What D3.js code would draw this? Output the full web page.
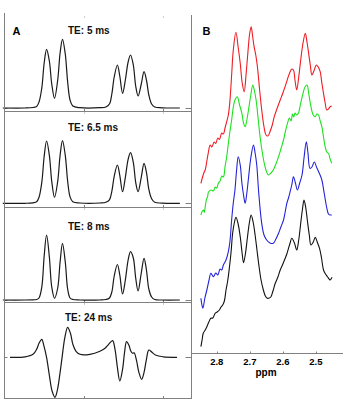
<!DOCTYPE html>
<html>
<head>
<meta charset="utf-8">
<script src="https://cdn.jsdelivr.net/npm/d3@7"></script>
<style>
body { margin: 0; background: #fff; }
svg { display: block; font-family: Arial, "Liberation Sans", sans-serif; }
</style>
</head>
<body>
<div class="chart"></div>
<script>
// ---- panel A: simulated spectra (ppm grid shared by the first three echo times)
const aPpm = [2.853, 2.797, 2.777, 2.768, 2.762, 2.755, 2.749, 2.743, 2.736, 2.730, 2.723, 2.715, 2.709, 2.703, 2.696, 2.690, 2.684, 2.677, 2.659, 2.609, 2.594, 2.585, 2.579, 2.573, 2.565, 2.559, 2.552, 2.545, 2.538, 2.532, 2.525, 2.519, 2.513, 2.505, 2.498, 2.492, 2.486, 2.479, 2.471, 2.453, 2.408];
const te5  = [0, 0, 0.5, 1.5, 6, 20, 45, 58.7, 47, 24, 9.7, 28, 55, 68.7, 54, 26, 8, 2, 0.3, 0.3, 1, 4, 14, 31, 43, 32, 14.7, 28, 46, 53, 43, 22, 12, 24, 36.3, 28, 13, 4, 1, 0.2, 0];
const te65 = [0, 0, 0.5, 1.5, 6, 21, 47, 62.3, 48, 22, 6, 22, 48, 62.6, 48, 22, 6.5, 1.5, 0.3, 0.3, 1, 3.5, 12, 27, 38.3, 28, 11.6, 26, 44, 50.6, 41, 21, 11.6, 26, 40, 31, 14, 4.5, 1, 0.2, 0];
const te8  = [0, 0, 0.2, 0.5, 2, 13, 44, 65, 43, 13, 1.7, 12, 38, 56.7, 38, 11, 2, 0.5, 0, 0, 0.5, 2, 8, 24, 35.5, 25, 6, 20, 40, 48.3, 42, 22, 9, 27, 41.7, 30, 11, 3, 0.5, 0, 0];

const te24Ppm = [2.835, 2.797, 2.777, 2.768, 2.762, 2.755, 2.750, 2.743, 2.736, 2.729, 2.722, 2.716, 2.709, 2.704, 2.697, 2.690, 2.683, 2.677, 2.669, 2.659, 2.634, 2.609, 2.596, 2.587, 2.577, 2.571, 2.565, 2.559, 2.552, 2.547, 2.542, 2.536, 2.531, 2.527, 2.523, 2.517, 2.511, 2.504, 2.498, 2.492, 2.486, 2.478, 2.468, 2.450, 2.415];
const te24    = [0, 0.5, 3, 8, 14, 18, 12, 0, -18, -34, -40, -33, -15, 0, 20, 30, 24, 13, 6, 3, 3, 6, 9, 13, 16.7, 8, -10, -23.7, -12, 5, 15.7, 12, 6, 4, 4.5, -3, -15, -22, -15, -2, 7.3, 5, 2, 0.5, 0];

const teLabels = ['TE: 5 ms', 'TE: 6.5 ms', 'TE: 8 ms', 'TE: 24 ms'];
const aYLimits = [[-3, 93], [-3.7, 92.3], [-2, 93], [-40.7, 55.3]];
const aTicks = [2.65, 2.45];

// ---- panel B: measured spectra
const redPpm = [2.848, 2.843, 2.838, 2.835, 2.831, 2.826, 2.820, 2.815, 2.808, 2.803, 2.797, 2.792, 2.785, 2.780, 2.775, 2.770, 2.765, 2.760, 2.755, 2.750, 2.742, 2.735, 2.729, 2.723, 2.717, 2.711, 2.706, 2.701, 2.696, 2.692, 2.687, 2.682, 2.677, 2.670, 2.664, 2.657, 2.651, 2.645, 2.639, 2.632, 2.626, 2.617, 2.608, 2.600, 2.590, 2.584, 2.578, 2.573, 2.568, 2.563, 2.558, 2.552, 2.546, 2.539, 2.532, 2.527, 2.522, 2.517, 2.512, 2.505, 2.499, 2.493, 2.487, 2.482, 2.477, 2.472, 2.467, 2.462, 2.457, 2.452];
const red    = [169.7, 176, 181, 183, 190, 199.7, 208, 206, 211, 209.5, 215, 213.5, 220, 219, 225, 231.3, 238, 253, 278, 303, 320.7, 305, 289.7, 270, 261.3, 280, 299.7, 318, 326.3, 318, 306.3, 298, 286.3, 262, 243, 226, 218, 217, 221.3, 228, 236.3, 245, 253, 260, 269.7, 276, 281.3, 284, 283, 272, 263, 276, 293, 310, 319.7, 311, 299.7, 288, 278, 283, 288, 286, 281.3, 270, 259.7, 250, 243, 244, 246.3, 247];

const greenPpm = [2.848, 2.845, 2.840, 2.838, 2.835, 2.831, 2.828, 2.825, 2.817, 2.810, 2.805, 2.800, 2.795, 2.790, 2.785, 2.780, 2.775, 2.770, 2.765, 2.760, 2.755, 2.750, 2.745, 2.738, 2.731, 2.724, 2.719, 2.714, 2.709, 2.704, 2.697, 2.691, 2.686, 2.681, 2.675, 2.669, 2.661, 2.654, 2.649, 2.644, 2.636, 2.629, 2.621, 2.613, 2.606, 2.598, 2.592, 2.586, 2.580, 2.575, 2.571, 2.567, 2.563, 2.558, 2.553, 2.546, 2.539, 2.533, 2.527, 2.521, 2.515, 2.508, 2.502, 2.497, 2.492, 2.487, 2.482, 2.477, 2.472, 2.467, 2.462, 2.457, 2.452];
const green    = [138, 141, 143, 140.5, 146, 154, 156, 161, 163, 162, 166, 165, 170, 172, 177, 176, 186.3, 196, 209.7, 222, 233, 246, 253, 256.3, 248, 239.7, 230, 226.3, 233, 243, 258, 268, 262, 253, 235, 216.3, 198, 186.3, 181, 178, 180, 183, 189, 196.3, 204, 213, 222, 229.7, 235, 232, 239, 236, 240, 238, 239.7, 250, 259.7, 266, 268, 258, 246.3, 238, 236.3, 239, 238, 232, 226.3, 216, 206.3, 201, 199.7, 194, 189.7];

const bluePpm = [2.848, 2.845, 2.842, 2.836, 2.830, 2.824, 2.818, 2.814, 2.810, 2.803, 2.797, 2.790, 2.785, 2.780, 2.772, 2.765, 2.760, 2.755, 2.750, 2.745, 2.740, 2.735, 2.729, 2.724, 2.719, 2.714, 2.709, 2.704, 2.697, 2.689, 2.684, 2.679, 2.673, 2.664, 2.657, 2.649, 2.639, 2.629, 2.621, 2.613, 2.606, 2.598, 2.593, 2.588, 2.583, 2.578, 2.573, 2.568, 2.562, 2.556, 2.549, 2.542, 2.536, 2.529, 2.524, 2.518, 2.512, 2.505, 2.497, 2.490, 2.482, 2.475, 2.467, 2.462, 2.457, 2.452];
const blue    = [54.7, 48, 44.7, 55, 63, 72, 79.7, 78, 76.3, 80, 78, 84, 83, 88, 93, 101.3, 112, 133, 150, 163, 183, 196.3, 188, 170, 158, 149.7, 160, 175, 195, 208, 200, 188, 160, 129.7, 118, 113, 110, 109.7, 114, 119.7, 126, 133, 141, 149.7, 155, 161.3, 168, 176.3, 170, 163, 170, 178, 195, 211.3, 200, 184.7, 186, 191, 185, 180, 173, 160, 145, 139, 138, 138];

const blackPpm = [2.848, 2.844, 2.841, 2.835, 2.830, 2.824, 2.818, 2.812, 2.805, 2.799, 2.792, 2.787, 2.782, 2.777, 2.772, 2.767, 2.762, 2.757, 2.752, 2.747, 2.742, 2.736, 2.729, 2.724, 2.719, 2.713, 2.707, 2.701, 2.696, 2.690, 2.684, 2.678, 2.672, 2.666, 2.659, 2.653, 2.647, 2.641, 2.636, 2.630, 2.623, 2.615, 2.608, 2.600, 2.593, 2.588, 2.583, 2.578, 2.573, 2.565, 2.558, 2.552, 2.546, 2.541, 2.536, 2.531, 2.526, 2.520, 2.515, 2.508, 2.502, 2.496, 2.489, 2.483, 2.477, 2.471, 2.465, 2.460, 2.457, 2.451];
const black    = [6.3, 14, 19.7, 23, 26.3, 31, 34.7, 35, 39.7, 41, 43, 46, 48, 52, 63, 72, 84.7, 100, 119.7, 130, 135.7, 130, 116.3, 102, 90.3, 100, 116.3, 131, 138, 131, 118, 102, 86.3, 73, 63, 57, 54.7, 55, 56.3, 62, 69.7, 76, 83, 89, 94.7, 99, 104.7, 110, 114.7, 110, 103, 113, 129.7, 143, 153, 146, 133, 118, 108, 111, 115.7, 111, 104.7, 95, 83, 79, 76.3, 74, 73, 75.7];

const bTicks = [2.8, 2.7, 2.6, 2.5];

const width = 344;
const height = 400;
const axisGrey = '#808080';

const svg = d3.select('.chart')
.append('svg')
.attr('width', width)
.attr('height', height);

// ---------- panel A
const rows = [15, 111, 207, 302, 398];
const left = 4.5, right = 191.5;

const xA = d3.scaleLinear()
.domain([2.85, 2.38])
.range([4, 191]);

const aSeries = [
	{ppm: aPpm, val: te5},
	{ppm: aPpm, val: te65},
	{ppm: aPpm, val: te8},
	{ppm: te24Ppm, val: te24}
];

const titleX = [68, 68, 68, 65];
const titleY = [34, 131, 229.5, 320.5];

aSeries.forEach((s, i) => {

	const y = d3.scaleLinear()
	.domain(aYLimits[i])
	.range([rows[i + 1], rows[i]]);

	const g = svg.append('g');

	// border under each subplot
	g.append('line')
	.attr('x1', left).attr('x2', right)
	.attr('y1', rows[i + 1] + 0.5).attr('y2', rows[i + 1] + 0.5)
	.attr('stroke', axisGrey);

	// x ticks top & bottom
	aTicks.forEach(t => {
		g.append('line')
		.attr('x1', Math.round(xA(t)) + 0.5).attr('x2', Math.round(xA(t)) + 0.5)
		.attr('y1', rows[i + 1]).attr('y2', rows[i + 1] - 2)
		.attr('stroke', axisGrey);
		g.append('line')
		.attr('x1', Math.round(xA(t)) + 0.5).attr('x2', Math.round(xA(t)) + 0.5)
		.attr('y1', rows[i] + 1).attr('y2', rows[i] + 3)
		.attr('stroke', '#ccc');
	});

	// y tick at zero, both sides
	const y0 = Math.round(y(0)) + 0.5;
	g.append('line').attr('x1', left).attr('x2', left + 3).attr('y1', y0).attr('y2', y0).attr('stroke', axisGrey);
	g.append('line').attr('x1', right).attr('x2', right - 6).attr('y1', y0).attr('y2', y0).attr('stroke', axisGrey);

	const line = d3.line()
	.x((d, j) => xA(s.ppm[j]))
	.y(d => y(d))
	.curve(d3.curveCatmullRom);

	g.append('path')
	.datum(s.val)
	.attr('d', line)
	.attr('fill', 'none')
	.attr('stroke', '#1a1a1a')
	.attr('stroke-width', 1.2);

	g.append('text')
	.attr('x', titleX[i])
	.attr('y', titleY[i])
	.attr('font-size', 10)
	.attr('font-weight', 'bold')
	.attr('fill', '#111')
	.text(teLabels[i]);
});

// outer verticals
svg.append('line').attr('x1', left).attr('x2', left).attr('y1', 13).attr('y2', rows[4] + 1).attr('stroke', axisGrey);
svg.append('line').attr('x1', right).attr('x2', right).attr('y1', 15).attr('y2', rows[4] + 1).attr('stroke', axisGrey);

svg.append('text')
.attr('x', 12.5).attr('y', 35)
.attr('font-size', 11).attr('font-weight', 'bold')
.text('A');

// ---------- panel B
const xB = d3.scaleLinear()
.domain([2.878, 2.418])
.range([191, 343]);

const yB = d3.scaleLinear()
.domain([0, 338])
.range([353, 15]);

const bSeries = [
	{ppm: redPpm, val: red, color: '#ee1c24'},
	{ppm: greenPpm, val: green, color: '#1ee01e'},
	{ppm: bluePpm, val: blue, color: '#2323d8'},
	{ppm: blackPpm, val: black, color: '#111'}
];

bSeries.forEach(s => {
	const line = d3.line()
	.x((d, j) => xB(s.ppm[j]))
	.y(d => yB(d))
	.curve(d3.curveCatmullRom);

	svg.append('path')
	.datum(s.val)
	.attr('d', line)
	.attr('fill', 'none')
	.attr('stroke', s.color)
	.attr('stroke-width', 1.1);
});

const xAxisB = svg.append('g')
.attr('transform', 'translate(0,353.5)');

xAxisB.append('line')
.attr('x1', 191).attr('x2', 343)
.attr('stroke', axisGrey);

bTicks.forEach(t => {
	xAxisB.append('line')
	.attr('x1', Math.round(xB(t)) + 0.5).attr('x2', Math.round(xB(t)) + 0.5)
	.attr('y1', 0).attr('y2', -2)
	.attr('stroke', axisGrey);
	xAxisB.append('text')
	.attr('x', xB(t)).attr('y', 11.5)
	.attr('text-anchor', 'middle')
	.attr('font-size', 9.5).attr('font-weight', 'bold')
	.text(d3.format('.1f')(t));
});

svg.append('text')
.attr('x', 266).attr('y', 376)
.attr('text-anchor', 'middle')
.attr('font-size', 10).attr('font-weight', 'bold')
.text('ppm');

svg.append('text')
.attr('x', 202.5).attr('y', 35)
.attr('font-size', 11).attr('font-weight', 'bold')
.text('B');
</script>
</body>
</html>
